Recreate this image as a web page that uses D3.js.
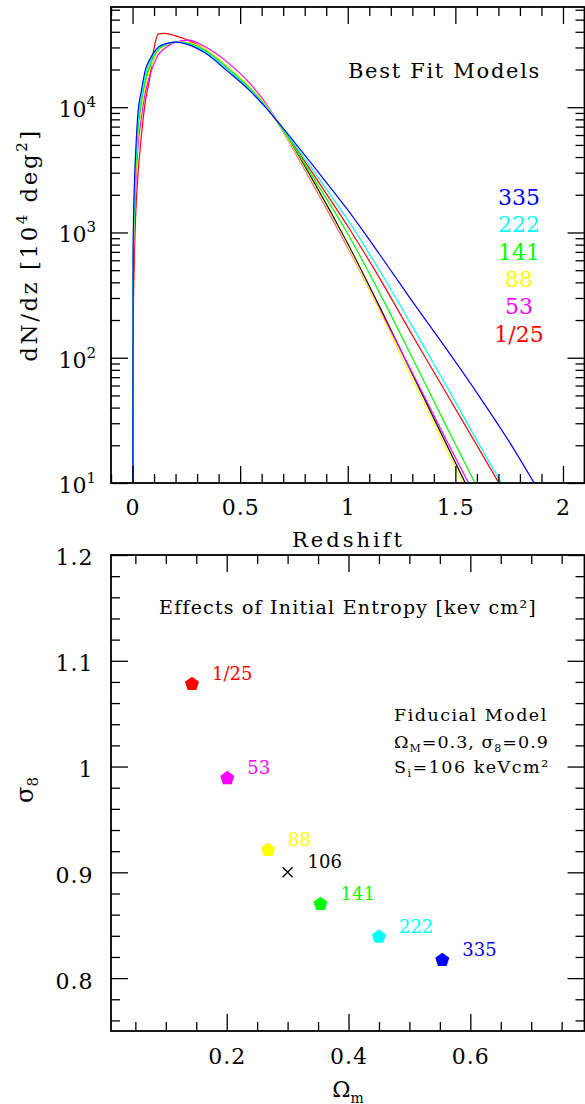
<!DOCTYPE html>
<html>
<head>
<meta charset="utf-8">
<script src="https://cdn.jsdelivr.net/npm/d3@7"></script>
<style>
body { margin: 0; background: #fff; }
svg text { font-family: "DejaVu Serif", serif; }
</style>
</head>
<body>
<div id="chart"></div>
<script>
// ---- data ----

// redshift grid shared by every dN/dz curve
let redshift = [0, 0.003, 0.008, 0.015, 0.025, 0.04, 0.06, 0.08, 0.1, 0.12, 0.15, 0.2, 0.26, 0.34,
    0.44, 0.54, 0.64, 0.72, 0.85, 1.0, 1.15, 1.3, 1.45, 1.6, 1.75, 1.9, 2.05];

// log10(dN/dz) for each initial entropy model
let log335 = [-1, 2.9, 3.35, 3.65, 3.95, 4.12, 4.30, 4.38, 4.44, 4.48, 4.505, 4.52, 4.50, 4.43,
    4.29, 4.14, 3.955, 3.79, 3.51, 3.18, 2.82, 2.45, 2.09, 1.72, 1.33, 0.9, 0.45];
let log222 = [-1, 2.8, 3.28, 3.58, 3.88, 4.07, 4.26, 4.36, 4.43, 4.47, 4.50, 4.52, 4.505, 4.44,
    4.305, 4.15, 3.96, 3.78, 3.47, 3.10, 2.69, 2.25, 1.80, 1.34, 0.89, 0.44, 0];
let log141 = [-1, 2.7, 3.2, 3.52, 3.82, 4.03, 4.22, 4.33, 4.41, 4.46, 4.495, 4.52, 4.51, 4.45,
    4.315, 4.16, 3.965, 3.765, 3.41, 2.99, 2.51, 2.0, 1.48, 0.97, 0.46, 0, -0.5];
let log106 = [-1, 2.65, 3.15, 3.48, 3.78, 4.0, 4.19, 4.31, 4.40, 4.455, 4.49, 4.52, 4.515, 4.455,
    4.32, 4.165, 3.965, 3.755, 3.38, 2.91, 2.40, 1.87, 1.34, 0.81, 0.28, -0.2, -0.7];
let log88 = [-1, 2.6, 3.12, 3.46, 3.76, 3.98, 4.18, 4.30, 4.39, 4.45, 4.49, 4.52, 4.515, 4.46,
    4.325, 4.17, 3.97, 3.75, 3.36, 2.89, 2.37, 1.83, 1.30, 0.77, 0.24, -0.3, -0.8];
let log53 = [-1, 2.5, 3.02, 3.38, 3.68, 3.90, 4.12, 4.25, 4.35, 4.42, 4.47, 4.52, 4.535, 4.48,
    4.36, 4.20, 3.98, 3.745, 3.35, 2.88, 2.38, 1.88, 1.37, 0.87, 0.37, -0.1, -0.6];
let log1_25 = [-1, 2.2, 2.75, 3.15, 3.45, 3.75, 4.05, 4.23, 4.47, 4.585, 4.59, 4.57, 4.535, 4.46,
    4.32, 4.165, 3.96, 3.77, 3.44, 3.05, 2.63, 2.18, 1.74, 1.30, 0.86, 0.42, 0];

// legend of the top panel
let legendLabels = ["335", "222", "141", "88", "53", "1/25"];
let legendColors = ["#0000ff", "#00ffff", "#00ff00", "#ffff00", "#ff00ff", "#ff0000"];

// bottom panel: best fit Omega_m, sigma_8 for each entropy
let entropyLabels = ["1/25", "53", "88", "106", "141", "222", "335"];
let omegaM = [0.143, 0.201, 0.268, 0.3, 0.354, 0.450, 0.554];
let sigma8 = [1.078, 0.989, 0.921, 0.9, 0.870, 0.839, 0.817];
let pointColors = ["#ff0000", "#ff00ff", "#ffff00", "#000000", "#00ff00", "#00ffff", "#0000ff"];

// tick values
let zMajor = [0, 0.5, 1, 1.5, 2];
let zMinor = d3.range(-1, 22).map(d => d / 10);
let decades = [10, 100, 1000, 10000];
let logMinor = [];
[10, 100, 1000, 10000].forEach(b => d3.range(2, 10).forEach(k => logMinor.push(b * k)));
let omMajor = [0.2, 0.4, 0.6];
let omMinor = d3.range(1, 16).map(d => d * 0.05);
let s8Major = [0.8, 0.9, 1, 1.1, 1.2];
let s8Minor = d3.range(38, 61).map(d => d / 50);

// ---- drawing ----
let svg = d3.select("#chart").append("svg")
    .attr("width", 585)
    .attr("height", 1104);

let left = 111, right = 584.5;

// draws one set of ticks (optionally labelled) with a d3 axis
function addAxis(gen, scale, values, size, transform, fmt, pad) {
    let g = svg.append("g")
        .attr("transform", transform)
        .call(gen(scale).tickValues(values).tickSize(-size).tickSizeOuter(0)
            .tickPadding(pad || 3).tickFormat(fmt || ""));
    g.select(".domain").remove();
    g.selectAll("line").attr("stroke", "#000").attr("stroke-width", 1.3);
    g.selectAll("text")
        .attr("font-family", "DejaVu Serif")
        .attr("font-size", 22)
        .attr("fill", "#000")
        .attr("letter-spacing", 1);
    return g;
}

// top panel
let x1 = d3.scaleLinear().domain([-0.1, 2.1]).range([left, right]);
let y1 = d3.scaleLog().domain([10, Math.pow(10, 4.8)]).range([483, 7]);

svg.append("clipPath").attr("id", "clipTop")
    .append("rect")
    .attr("x", left).attr("y", 7)
    .attr("width", right - left).attr("height", 476);

let series = [
    { logs: log106, color: "#000000" },
    { logs: log1_25, color: "#ff0000" },
    { logs: log53, color: "#ff00ff" },
    { logs: log88, color: "#ffff00" },
    { logs: log141, color: "#00ff00" },
    { logs: log222, color: "#00ffff" },
    { logs: log335, color: "#0000ff" }
];

let line = d3.line()
    .x((d, i) => x1(redshift[i]))
    .y(d => y1(Math.pow(10, d)))
    .curve(d3.curveMonotoneX);

svg.append("g").attr("clip-path", "url(#clipTop)")
    .selectAll("path")
    .data(series)
    .enter().append("path")
    .attr("d", d => line(d.logs))
    .attr("fill", "none")
    .attr("stroke", d => d.color)
    .attr("stroke-width", 1.2);

let fmtZ = d => +d.toFixed(2) + "";
addAxis(d3.axisBottom, x1, zMinor.filter(d => zMajor.indexOf(d) < 0), 9, "translate(0,483)");
addAxis(d3.axisBottom, x1, zMajor, 17, "translate(0,483)", fmtZ, 16.5);
addAxis(d3.axisTop, x1, zMinor.filter(d => zMajor.indexOf(d) < 0), 9, "translate(0,7)");
addAxis(d3.axisTop, x1, zMajor, 17, "translate(0,7)");
addAxis(d3.axisLeft, y1, logMinor.filter(d => d < y1.domain()[1]), 9, `translate(${left},0)`);
addAxis(d3.axisLeft, y1, decades, 17, `translate(${left},0)`);
addAxis(d3.axisRight, y1, logMinor.filter(d => d < y1.domain()[1]), 9, `translate(${right},0)`);
addAxis(d3.axisRight, y1, decades, 17, `translate(${right},0)`);

// 10^n labels
svg.append("g").selectAll("text")
    .data(decades)
    .enter().append("text")
    .attr("x", 96)
    .attr("y", d => y1(d) + 10)
    .attr("text-anchor", "end")
    .attr("font-size", 22)
    .each(function(d) {
        let t = d3.select(this);
        t.append("tspan").text("10");
        t.append("tspan").attr("font-size", 15).attr("dy", -10).text(Math.round(Math.log10(d)));
    });

svg.append("rect")
    .attr("x", left).attr("y", 7)
    .attr("width", right - left).attr("height", 476)
    .attr("fill", "none").attr("stroke", "#000").attr("stroke-width", 1.8);

svg.append("text")
    .attr("x", 444.5).attr("y", 77.5)
    .attr("text-anchor", "middle")
    .attr("font-size", 21)
    .attr("letter-spacing", 1.7)
    .text("Best Fit Models");

svg.append("g").selectAll("text")
    .data(legendLabels)
    .enter().append("text")
    .attr("x", 519)
    .attr("y", (d, i) => 205 + i * 27.3)
    .attr("text-anchor", "middle")
    .attr("font-size", 22)
    .attr("fill", (d, i) => legendColors[i])
    .text(d => d);

svg.append("text")
    .attr("x", 348.5).attr("y", 546.5)
    .attr("text-anchor", "middle")
    .attr("font-size", 21)
    .attr("letter-spacing", 3)
    .text("Redshift");

let yLab = svg.append("text")
    .attr("transform", "translate(37,245) rotate(-90)")
    .attr("text-anchor", "middle")
    .attr("font-size", 23)
    .attr("letter-spacing", 2.5);
yLab.append("tspan").text("dN/dz [10");
yLab.append("tspan").attr("font-size", 15).attr("dy", -10).text("4");
yLab.append("tspan").attr("dy", 10).text(" deg");
yLab.append("tspan").attr("font-size", 15).attr("dy", -10).text("2");
yLab.append("tspan").attr("dy", 10).text("]");

// bottom panel
let x2 = d3.scaleLinear().domain([0.01, 0.7875]).range([left, right]);
let y2 = d3.scaleLinear().domain([0.75, 1.2]).range([1031, 555]);

let fmtS = d => +d.toFixed(2) + "";
addAxis(d3.axisBottom, x2, omMinor.filter(d => omMajor.every(m => Math.abs(m - d) > 1e-6)), 9, "translate(0,1031)");
addAxis(d3.axisBottom, x2, omMajor, 17, "translate(0,1031)", fmtS, 17.5);
addAxis(d3.axisTop, x2, omMinor.filter(d => omMajor.every(m => Math.abs(m - d) > 1e-6)), 9, "translate(0,555)");
addAxis(d3.axisTop, x2, omMajor, 17, "translate(0,555)");
addAxis(d3.axisLeft, y2, s8Minor.filter(d => s8Major.every(m => Math.abs(m - d) > 1e-6)), 9, `translate(${left},0)`);
addAxis(d3.axisLeft, y2, s8Major, 17, `translate(${left},0)`, fmtS, 17.5)
    .selectAll("text").attr("dy", "0.45em");
addAxis(d3.axisRight, y2, s8Minor.filter(d => s8Major.every(m => Math.abs(m - d) > 1e-6)), 9, `translate(${right},0)`);
addAxis(d3.axisRight, y2, s8Major, 17, `translate(${right},0)`);

svg.append("rect")
    .attr("x", left).attr("y", 555)
    .attr("width", right - left).attr("height", 476)
    .attr("fill", "none").attr("stroke", "#000").attr("stroke-width", 1.8);

// pentagon marker, point up
let penta = d3.line()(d3.range(5).map(i => {
    let a = -Math.PI / 2 + i * 2 * Math.PI / 5;
    return [7.4 * Math.cos(a), 7.4 * Math.sin(a)];
})) + "Z";

let pts = svg.append("g").selectAll("g")
    .data(entropyLabels)
    .enter().append("g")
    .attr("transform", (d, i) => `translate(${x2(omegaM[i])},${y2(sigma8[i])})`);

pts.filter(d => d !== "106").append("path")
    .attr("d", penta)
    .attr("fill", d => pointColors[entropyLabels.indexOf(d)]);

pts.filter(d => d === "106").append("path")
    .attr("d", "M-5,-5L5,5M-5,5L5,-5")
    .attr("stroke", "#000")
    .attr("stroke-width", 1.3);

pts.append("text")
    .attr("x", 20).attr("y", -4)
    .attr("font-size", 18)
    .attr("fill", d => pointColors[entropyLabels.indexOf(d)])
    .text(d => d);

svg.append("text")
    .attr("x", 348).attr("y", 614)
    .attr("text-anchor", "middle")
    .attr("font-size", 19)
    .attr("letter-spacing", 1.2)
    .text("Effects of Initial Entropy [kev cm²]");

svg.append("text")
    .attr("x", 394).attr("y", 721)
    .attr("font-size", 17.5)
    .attr("letter-spacing", 1.5)
    .text("Fiducial Model");

let fid2 = svg.append("text")
    .attr("x", 394).attr("y", 748.3)
    .attr("font-size", 17.5)
    .attr("letter-spacing", 1);
fid2.append("tspan").text("Ω");
fid2.append("tspan").attr("font-size", 11).attr("dy", 4).text("M");
fid2.append("tspan").attr("dy", -4).text("=0.3, σ");
fid2.append("tspan").attr("font-size", 11).attr("dy", 4).text("8");
fid2.append("tspan").attr("dy", -4).text("=0.9");

let fid3 = svg.append("text")
    .attr("x", 394).attr("y", 773.3)
    .attr("font-size", 17.5)
    .attr("letter-spacing", 1.5);
fid3.append("tspan").text("S");
fid3.append("tspan").attr("font-size", 11).attr("dy", 4).text("i");
fid3.append("tspan").attr("dy", -4).text("=106 keVcm²");

let xLab2 = svg.append("text")
    .attr("x", 348).attr("y", 1096.5)
    .attr("text-anchor", "middle")
    .attr("font-size", 22);
xLab2.append("tspan").text("Ω");
xLab2.append("tspan").attr("font-size", 14).attr("dy", 6).text("m");

let yLab2 = svg.append("text")
    .attr("transform", "translate(33,790) rotate(-90)")
    .attr("text-anchor", "middle")
    .attr("font-size", 24);
yLab2.append("tspan").text("σ");
yLab2.append("tspan").attr("font-size", 15).attr("dy", 5).text("8");
</script>
</body>
</html>
